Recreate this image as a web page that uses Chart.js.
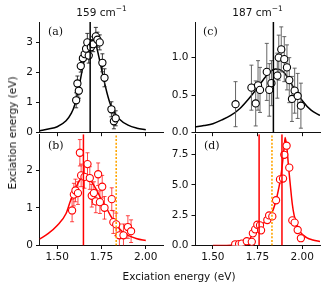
<!DOCTYPE html>
<html>
<head>
<meta charset="utf-8">
<script src="https://cdn.jsdelivr.net/npm/chart.js@4"></script>
<style>
  body { margin: 0; background: #fff; }
  #wrap { position: relative; width: 327px; height: 290px; background: #fff; overflow: hidden; }
  canvas { position: absolute; }
  .txt { position: absolute; font-family: "DejaVu Sans"; font-size: 10.5px; color: #111; white-space: nowrap; }
  .lab { position: absolute; font-family: "DejaVu Serif"; font-size: 11px; color: #111; }
  sup { font-size: 7.5px; vertical-align: 5px; line-height: 0; }
</style>
</head>
<body>
<div id="wrap">
  <canvas id="pa" width="170" height="132" style="left:0;top:10px"></canvas>
  <canvas id="pb" width="170" height="165" style="left:0;top:125px"></canvas>
  <canvas id="pc" width="167" height="132" style="left:160px;top:10px"></canvas>
  <canvas id="pd" width="167" height="165" style="left:160px;top:125px"></canvas>
  <div class="txt" style="left:101.5px;top:6px;transform:translateX(-50%)">159 cm<sup>−1</sup></div>
  <div class="txt" style="left:257.5px;top:6px;transform:translateX(-50%)">187 cm<sup>−1</sup></div>
  <div class="lab" style="left:48px;top:25px">(a)</div>
  <div class="lab" style="left:48px;top:139px">(b)</div>
  <div class="lab" style="left:203px;top:25px">(c)</div>
  <div class="lab" style="left:204px;top:139px">(d)</div>
  <div class="txt" style="left:179px;top:270px;transform:translateX(-50%)">Exciation energy (eV)</div>
  <div class="txt" style="left:12px;top:133px;transform:translate(-50%,-50%) rotate(-90deg)">Exciation energy (eV)</div>
</div>
<script>
// x ticks shared by all panels
const xTicks = [1.5, 1.75, 2.0];

// (a) 159 cm-1, black
const aX = [1.607, 1.614, 1.622, 1.633, 1.645, 1.655, 1.663, 1.670, 1.678, 1.690, 1.703, 1.718, 1.727, 1.740, 1.755, 1.767, 1.806, 1.820, 1.830];
const aY = [1.08, 1.64, 1.40, 2.22, 2.48, 2.62, 2.80, 3.01, 2.57, 2.85, 2.95, 3.21, 3.10, 3.01, 2.33, 1.83, 0.78, 0.38, 0.48];
const aErr = [0.25, 0.25, 0.25, 0.2, 0.2, 0.2, 0.2, 0.3, 0.25, 0.25, 0.25, 0.3, 0.25, 0.25, 0.3, 0.3, 0.25, 0.25, 0.25];
const aFitX = [1.40, 1.45, 1.50, 1.55, 1.58, 1.60, 1.62, 1.64, 1.66, 1.68, 1.70, 1.72, 1.74, 1.76, 1.78, 1.80, 1.82, 1.85, 1.90, 1.95, 2.00];
const aFitY = [0.06, 0.12, 0.20, 0.40, 0.65, 0.95, 1.45, 2.05, 2.65, 3.02, 3.10, 2.90, 2.40, 1.85, 1.35, 0.95, 0.70, 0.46, 0.25, 0.15, 0.10];
const aYTicks = [0, 1, 2, 3];
const aLines = [1.686];

// (b) 159 cm-1, red
const bX = [1.584, 1.594, 1.603, 1.617, 1.628, 1.635, 1.654, 1.671, 1.684, 1.695, 1.707, 1.718, 1.731, 1.741, 1.754, 1.767, 1.808, 1.817, 1.833, 1.851, 1.874, 1.899, 1.917];
const bY = [0.93, 1.35, 1.46, 1.39, 2.46, 1.86, 1.82, 2.16, 1.79, 1.32, 1.39, 1.17, 1.89, 1.15, 1.56, 1.00, 1.23, 0.62, 0.56, 0.27, 0.27, 0.49, 0.38];
const bErr = [0.3, 0.3, 0.3, 0.3, 0.35, 0.3, 0.3, 0.3, 0.3, 0.3, 0.3, 0.3, 0.3, 0.3, 0.3, 0.3, 0.3, 0.3, 0.3, 0.3, 0.3, 0.3, 0.3];
const bFitX = [1.40, 1.45, 1.50, 1.55, 1.575, 1.60, 1.625, 1.65, 1.675, 1.70, 1.725, 1.75, 1.775, 1.80, 1.825, 1.85, 1.875, 1.90, 1.95, 2.00];
const bFitY = [0.17, 0.32, 0.53, 0.85, 1.19, 1.47, 1.72, 1.82, 1.81, 1.65, 1.45, 1.21, 1.02, 0.80, 0.62, 0.45, 0.34, 0.27, 0.18, 0.13];
const bYTicks = [0, 1, 2];
const bLines = [1.648];
const bDotted = [1.833];

// (c) 187 cm-1, black
const cX = [1.627, 1.716, 1.740, 1.753, 1.764, 1.802, 1.816, 1.828, 1.861, 1.869, 1.883, 1.900, 1.915, 1.928, 1.943, 1.958, 1.975, 1.993];
const cY = [0.38, 0.60, 0.39, 0.63, 0.57, 0.81, 0.57, 0.66, 0.76, 1.00, 1.11, 0.98, 0.87, 0.70, 0.45, 0.56, 0.49, 0.36];
const cErr = [0.30, 0.30, 0.30, 0.33, 0.30, 0.38, 0.35, 0.30, 0.30, 0.30, 0.30, 0.30, 0.30, 0.30, 0.30, 0.30, 0.30, 0.30];
const cFitX = [1.40, 1.45, 1.50, 1.55, 1.60, 1.65, 1.70, 1.75, 1.80, 1.825, 1.85, 1.875, 1.90, 1.95, 2.00, 2.05, 2.10];
const cFitY = [0.075, 0.095, 0.12, 0.17, 0.23, 0.32, 0.45, 0.60, 0.76, 0.82, 0.85, 0.84, 0.80, 0.61, 0.43, 0.30, 0.23];
const cYTicks = [0, 0.5, 1.0];
const cLines = [1.839];

// (d) 187 cm-1, red
const dX = [1.625, 1.647, 1.662, 1.690, 1.718, 1.724, 1.737, 1.749, 1.764, 1.770, 1.805, 1.815, 1.833, 1.854, 1.876, 1.893, 1.900, 1.913, 1.928, 1.945, 1.958, 1.975, 1.993];
const dY = [0.10, 0.12, 0.16, 0.35, 0.30, 1.00, 1.33, 1.71, 1.66, 1.25, 2.10, 2.48, 2.40, 3.73, 5.45, 5.52, 7.48, 8.23, 6.42, 2.07, 1.89, 1.28, 0.60];
const dErr = [0.2, 0.2, 0.2, 0.2, 0.2, 0.2, 0.2, 0.2, 0.2, 0.2, 0.2, 0.2, 0.2, 0.2, 0.2, 0.2, 0.2, 0.2, 0.2, 0.2, 0.2, 0.2, 0.2];
const dFitX = [1.50, 1.55, 1.60, 1.65, 1.70, 1.725, 1.75, 1.775, 1.80, 1.825, 1.85, 1.87, 1.88, 1.89, 1.90, 1.905, 1.915, 1.925, 1.935, 1.945, 1.955, 1.97, 1.99, 2.025, 2.06, 2.10];
const dFitY = [0.0, 0.0, 0.02, 0.10, 0.45, 0.95, 1.45, 1.75, 2.05, 2.50, 3.50, 4.80, 5.60, 6.80, 8.20, 8.90, 8.00, 6.30, 4.80, 3.40, 2.50, 1.70, 1.10, 0.65, 0.45, 0.33];
const dYTicks = [0, 2.5, 5.0, 7.5];
const dLines = [1.759, 1.887];
const dDotted = [1.831];

Chart.defaults.font.family = 'DejaVu Sans';
Chart.defaults.font.size = 10.5;
Chart.defaults.color = '#111';

const errorBars = {
  id: 'errorBars',
  beforeDatasetDraw(chart, args, opts) {
    if (args.index !== opts.index) return;
    const xs = chart.scales.x, ys = chart.scales.y, ctx = chart.ctx, area = chart.chartArea;
    const pts = chart.data.datasets[args.index].data;
    ctx.save();
    ctx.beginPath();
    ctx.rect(area.left, area.top, area.right - area.left, area.bottom - area.top);
    ctx.clip();
    ctx.strokeStyle = opts.color;
    ctx.lineWidth = 0.9;
    pts.forEach((p, i) => {
      const px = xs.getPixelForValue(p.x);
      const t = ys.getPixelForValue(p.y + opts.errs[i]);
      const b = ys.getPixelForValue(p.y - opts.errs[i]);
      ctx.beginPath();
      ctx.moveTo(px, t); ctx.lineTo(px, b);
      ctx.moveTo(px - 2, t); ctx.lineTo(px + 2, t);
      ctx.moveTo(px - 2, b); ctx.lineTo(px + 2, b);
      ctx.stroke();
    });
    ctx.restore();
  }
};

function pairs(xs, ys) {
  return xs.map((x, i) => ({ x: x, y: ys[i] }));
}

function makePanel(id, p) {
  const ds = [];
  p.lines.forEach(x => ds.push({
    data: [{ x: x, y: 0 }, { x: x, y: p.ymax }],
    borderColor: p.color, borderWidth: 1.5, pointRadius: 0, order: 0
  }));
  (p.dotted || []).forEach(x => ds.push({
    data: [{ x: x, y: 0 }, { x: x, y: p.ymax }],
    borderColor: '#FFA500', borderWidth: 1.6, borderDash: [2, 1.6], pointRadius: 0, order: 0
  }));
  const ptIndex = ds.length;
  ds.push({
    data: pairs(p.x, p.y), showLine: false,
    pointRadius: 3.6, pointBorderWidth: 1.1,
    pointBorderColor: p.color, pointBackgroundColor: '#fff', order: 1
  });
  ds.push({
    data: pairs(p.fitX, p.fitY),
    borderColor: p.color, borderWidth: 1.5, pointRadius: 0,
    cubicInterpolationMode: 'monotone', order: 2
  });

  new Chart(document.getElementById(id), {
    type: 'line',
    data: { datasets: ds },
    plugins: [errorBars],
    options: {
      responsive: false,
      animation: false,
      devicePixelRatio: 1,
      layout: { padding: { top: p.padTop, right: p.padRight, left: 0, bottom: 0 } },
      plugins: {
        legend: { display: false },
        tooltip: { enabled: false },
        errorBars: { index: ptIndex, errs: p.err, color: p.errColor }
      },
      scales: {
        x: {
          type: 'linear', min: 1.4, max: 2.1,
          afterBuildTicks: s => { s.ticks = xTicks.map(v => ({ value: v })); },
          afterFit: s => { s.height = p.xH; },
          ticks: { display: p.xLabels, padding: 2, callback: v => v.toFixed(2) },
          grid: { drawOnChartArea: false, drawTicks: true, tickLength: 3.5, tickColor: '#111', tickWidth: 1 },
          border: { color: '#111', width: 1 }
        },
        y: {
          type: 'linear', min: 0, max: p.ymax,
          afterBuildTicks: s => { s.ticks = p.yTicks.map(v => ({ value: v })); },
          afterFit: s => { s.width = p.yW; },
          ticks: { padding: 3, callback: v => v.toFixed(p.dec) },
          grid: { drawOnChartArea: false, drawTicks: true, tickLength: 3.5, tickColor: '#111', tickWidth: 1 },
          border: { color: '#111', width: 1 }
        }
      }
    }
  });
}

makePanel('pa', { x: aX, y: aY, err: aErr, fitX: aFitX, fitY: aFitY, lines: aLines,
  color: '#000', errColor: '#222', ymax: 3.69, yTicks: aYTicks, dec: 0,
  padTop: 12, padRight: 6.5, xH: 8.7, yW: 39.5, xLabels: false });
makePanel('pb', { x: bX, y: bY, err: bErr, fitX: bFitX, fitY: bFitY, lines: bLines, dotted: bDotted,
  color: '#FF0000', errColor: 'rgba(255,0,0,0.8)', ymax: 2.95, yTicks: bYTicks, dec: 0,
  padTop: 8.3, padRight: 6.5, xH: 44.5, yW: 39.5, xLabels: true });
makePanel('pc', { x: cX, y: cY, err: cErr, fitX: cFitX, fitY: cFitY, lines: cLines,
  color: '#000', errColor: '#555', ymax: 1.475, yTicks: cYTicks, dec: 1,
  padTop: 12, padRight: 7, xH: 8.7, yW: 35, xLabels: false });
makePanel('pd', { x: dX, y: dY, err: dErr, fitX: dFitX, fitY: dFitY, lines: dLines, dotted: dDotted,
  color: '#FF0000', errColor: 'rgba(255,0,0,0.8)', ymax: 9.17, yTicks: dYTicks, dec: 1,
  padTop: 8.3, padRight: 7, xH: 44.5, yW: 35, xLabels: true });
</script>
</body>
</html>
